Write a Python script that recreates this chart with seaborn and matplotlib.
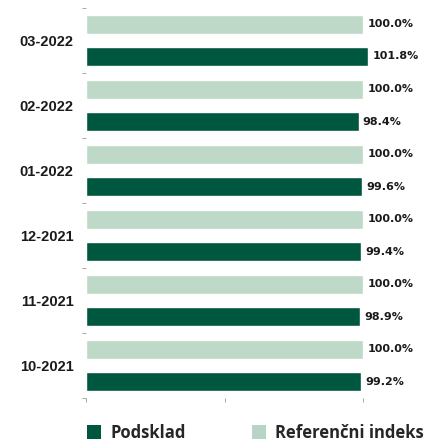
import matplotlib
matplotlib.use("Agg")
import matplotlib.pyplot as plt
import seaborn as sns
import pandas as pd
from matplotlib.patches import Patch

categories = ["03-2022", "02-2022", "01-2022", "12-2021", "11-2021", "10-2021"]
podsklad = [101.8, 98.4, 99.6, 99.4, 98.9, 99.2]
referencni = [100.0, 100.0, 100.0, 100.0, 100.0, 100.0]
series_names = ["Podsklad", "Referenčni indeks"]

dark = "#00573F"
light = "#BED9C7"

rows = []
for c, p, r in zip(categories, podsklad, referencni):
    rows.append({"cat": c, "val": r, "series": series_names[1]})
    rows.append({"cat": c, "val": p, "series": series_names[0]})
df = pd.DataFrame(rows)

sns.set_style("white")
plt.rcParams["font.family"] = ["Liberation Sans", "DejaVu Sans"]

fig = plt.figure(figsize=(4.29, 4.44), dpi=100)
ax = fig.add_axes([0.2005, 0.1036, 0.775, 0.8784])

sns.barplot(data=df, y="cat", x="val", hue="series",
            hue_order=[series_names[1], series_names[0]],
            order=categories, orient="h",
            palette={series_names[0]: dark, series_names[1]: light},
            width=0.985, gap=0.41, legend=False, ax=ax, errorbar=None,
            saturation=1)

for cont in ax.containers:
    ax.bar_label(cont, labels=[f"{v:.1f}%" for v in cont.datavalues],
                 padding=3, fontsize=8, fontweight="bold", color="#1a1a1a",
                 family=["DejaVu Sans"])

ax.set_xlim(0, 120)
ax.set_ylim(len(categories) - 0.5, -0.5)
ax.set_xticks([0, 50, 100])
ax.set_xticklabels([])
ax.tick_params(axis="x", length=3, width=0.6, color="#999999", direction="out", bottom=True, pad=2)
ax.tick_params(axis="y", which="major", length=0, labelsize=10.5, pad=9)
ax.set_yticks([i - 0.5 for i in range(len(categories) + 1)], minor=True)
ax.tick_params(axis="y", which="minor", length=3, width=0.6, color="#999999", left=True)
for lab in ax.get_yticklabels():
    lab.set_fontweight("bold")
    lab.set_color("#1a1a1a")
ax.set_xlabel("")
ax.set_ylabel("")
for s in ax.spines.values():
    s.set_visible(False)

handles = [Patch(facecolor=dark, edgecolor="none"), Patch(facecolor="#B8D4C6", edgecolor="none")]
fig.legend(handles, series_names, loc="center left", bbox_to_anchor=(0.203, 0.025),
           ncol=2, frameon=False, handlelength=0.85, handleheight=0.85,
           handletextpad=0.55, columnspacing=3.95, borderpad=0, borderaxespad=0,
           prop={"family": ["Open Sans", "DejaVu Sans"], "weight": "bold", "size": 12})

fig.savefig("out.png", dpi=100)
